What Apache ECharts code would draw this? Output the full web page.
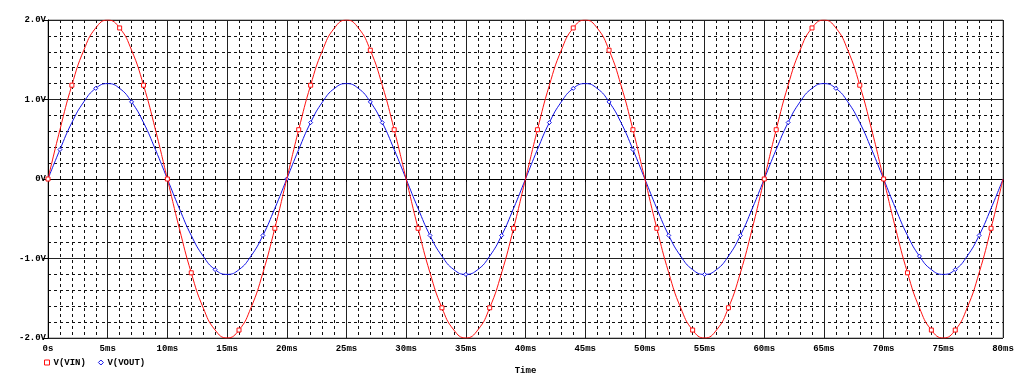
<!DOCTYPE html>
<html><head><meta charset="utf-8">
<script src="https://cdn.jsdelivr.net/npm/echarts@6/dist/echarts.min.js"></script>
<style>html,body{margin:0;padding:0;background:#fff}#c{width:1023px;height:380px}</style>
</head><body><div id="c"></div>
<script>
// time in ms, sampled every 1 ms
const timeMs = [0,1,2,3,4,5,6,7,8,9,10,11,12,13,14,15,16,17,18,19,20,21,22,23,24,25,26,27,28,29,30,31,32,33,34,35,36,37,38,39,40,41,42,43,44,45,46,47,48,49,50,51,52,53,54,55,56,57,58,59,60,61,62,63,64,65,66,67,68,69,70,71,72,73,74,75,76,77,78,79,80];
const vin = [
 0,0.62,1.18,1.62,1.90,2.00,1.90,1.62,1.18,0.62,0,-0.62,-1.18,-1.62,-1.90,-2.00,-1.90,-1.62,-1.18,-0.62,
 0,0.62,1.18,1.62,1.90,2.00,1.90,1.62,1.18,0.62,0,-0.62,-1.18,-1.62,-1.90,-2.00,-1.90,-1.62,-1.18,-0.62,
 0,0.62,1.18,1.62,1.90,2.00,1.90,1.62,1.18,0.62,0,-0.62,-1.18,-1.62,-1.90,-2.00,-1.90,-1.62,-1.18,-0.62,
 0,0.62,1.18,1.62,1.90,2.00,1.90,1.62,1.18,0.62,0,-0.62,-1.18,-1.62,-1.90,-2.00,-1.90,-1.62,-1.18,-0.62,
 0];
const vout = [
 0,0.37,0.71,0.97,1.14,1.20,1.14,0.97,0.71,0.37,0,-0.37,-0.71,-0.97,-1.14,-1.20,-1.14,-0.97,-0.71,-0.37,
 0,0.37,0.71,0.97,1.14,1.20,1.14,0.97,0.71,0.37,0,-0.37,-0.71,-0.97,-1.14,-1.20,-1.14,-0.97,-0.71,-0.37,
 0,0.37,0.71,0.97,1.14,1.20,1.14,0.97,0.71,0.37,0,-0.37,-0.71,-0.97,-1.14,-1.20,-1.14,-0.97,-0.71,-0.37,
 0,0.37,0.71,0.97,1.14,1.20,1.14,0.97,0.71,0.37,0,-0.37,-0.71,-0.97,-1.14,-1.20,-1.14,-0.97,-0.71,-0.37,
 0];
// indices (ms) where the simulator drew marker symbols
const vinMarks = [0,2,6,8,10,12,16,19,21,22,27,29,31,33,37,39,41,44,47,49,51,54,57,60,61,64,68,70,72,74,76,79];
const voutMarks = [1,4,7,10,14,18,20,22,27,28,32,35,38,42,44,47,49,52,55,58,60,62,66,70,73,76,78];
const yTickLabels = {'-2':'-2.0V','-1':'-1.0V','0':'0V','1':'1.0V','2':'2.0V'};
const seriesNames = ['V(VIN)','V(VOUT)'];

const font = '"Liberation Mono","DejaVu Sans Mono",monospace';
const red = '#ff1010', blue = '#1010e8';
const chart = echarts.init(document.getElementById('c'), null, {renderer:'canvas'});
chart.setOption({
  animation:false,
  grid:{left:48,right:20,top:20,bottom:36,show:true,borderColor:'#808080',borderWidth:1},
  legend:{
    left:44, top:358, itemWidth:5, itemHeight:5, itemGap:12, padding:0,
    textStyle:{fontFamily:font,fontSize:9,fontWeight:'bold',color:'#000',padding:[0,0,0,-1]},
    data:[
      {name:seriesNames[0],icon:'rect',itemStyle:{color:'#fff',borderColor:red,borderWidth:1}},
      {name:seriesNames[1],icon:'diamond',itemStyle:{color:'#fff',borderColor:blue,borderWidth:1}}
    ]
  },
  xAxis:{
    type:'value',min:0,max:80,interval:5,
    name:'Time',nameLocation:'middle',nameGap:28,
    nameTextStyle:{fontFamily:font,fontSize:9,fontWeight:'bold',color:'#000'},
    axisLine:{lineStyle:{color:'#000',width:1}},
    axisTick:{show:true,length:3,lineStyle:{color:'#000'}},
    axisLabel:{fontFamily:font,fontSize:9,fontWeight:'bold',color:'#000',margin:6,
      formatter:v=> v===0 ? '0s' : v+'ms'},
    splitLine:{show:true,lineStyle:{color:'#222',width:1}},
    minorTick:{show:false,splitNumber:5},
    minorSplitLine:{show:true,lineStyle:{color:'#111',width:1,type:[3,3]}}
  },
  yAxis:{
    type:'value',min:-2,max:2,interval:1,
    axisLine:{show:true,lineStyle:{color:'#000',width:1}},
    axisTick:{show:true,length:5,lineStyle:{color:'#000'}},
    axisLabel:{fontFamily:font,fontSize:9,fontWeight:'bold',color:'#000',margin:2,
      formatter:v=> yTickLabels[String(Math.round(v))]},
    splitLine:{show:true,lineStyle:{color:'#222',width:1}},
    minorTick:{show:false,splitNumber:5},
    minorSplitLine:{show:true,lineStyle:{color:'#111',width:1,type:[3,3]}}
  },
  series:[
    {name:seriesNames[0],type:'line',smooth:true,showSymbol:true,showAllSymbol:true,
     data:timeMs.map((t,i)=>[t,vin[i]]),
     symbol:(v,p)=> vinMarks.includes(p.dataIndex)?'rect':'none',
     symbolSize:4,
     lineStyle:{color:red,width:1},
     itemStyle:{color:'#fff',borderColor:red,borderWidth:1},
     z:3},
    {name:seriesNames[1],type:'line',smooth:true,showSymbol:true,showAllSymbol:true,
     data:timeMs.map((t,i)=>[t,vout[i]]),
     symbol:(v,p)=> voutMarks.includes(p.dataIndex)?'diamond':'none',
     symbolSize:4,
     lineStyle:{color:blue,width:1},
     itemStyle:{color:'#fff',borderColor:blue,borderWidth:1},
     z:2}
  ]
});
</script></body></html>
